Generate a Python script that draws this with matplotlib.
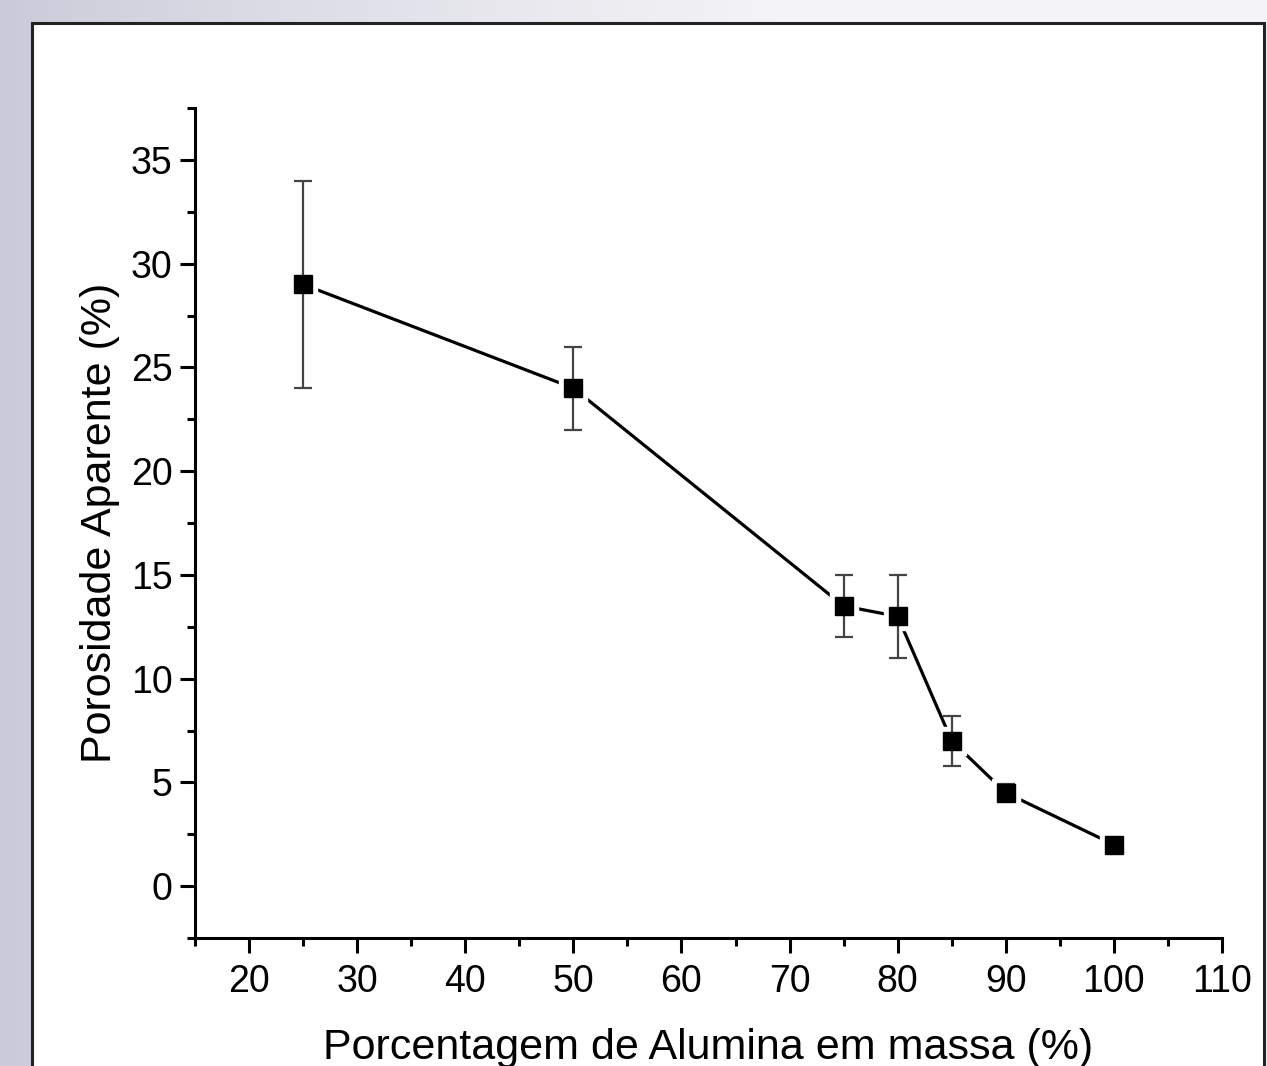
import numpy as np
import matplotlib
matplotlib.use("Agg")
import matplotlib.pyplot as plt
from matplotlib.patches import Rectangle

alumina = [25, 50, 75, 80, 85, 90, 100]
porosidade = [29, 24, 13.5, 13, 7, 4.5, 2]
erro = [5, 2, 1.5, 2, 1.2, 0.4, 0.1]

plt.rcParams['font.family'] = ['Liberation Sans', 'DejaVu Sans']

W, H = 1267, 1066
fig = plt.figure(figsize=(W/100, H/100), dpi=100)

# background gradient
bg = fig.add_axes([0, 0, 1, 1], zorder=-10)
gx = np.linspace(0, 1, 256)
c0 = np.array([0.79, 0.79, 0.85])
c1 = np.array([0.96, 0.96, 0.97])
t = np.clip(gx * 1.6, 0, 1) ** 0.8
img = c0[None, :] * (1 - t[:, None]) + c1[None, :] * t[:, None]
img = np.tile(img[None, :, :], (16, 1, 1))
bg.imshow(img, aspect='auto', extent=[0, 1, 0, 1])
bg.set_xlim(0, 1); bg.set_ylim(0, 1)
bg.axis('off')
bg.add_patch(Rectangle((32/W, -0.05), (1264-32)/W, 1.05 - 23/H,
                       facecolor='white', edgecolor='#222222', linewidth=2.2,
                       transform=bg.transAxes))

ax = fig.add_axes([195/W, 1-938/H, (1222-195)/W, (938-108)/H])
ax.patch.set_alpha(0)

ax.plot(alumina, porosidade, color='black', lw=2.3, zorder=1)
ax.plot(alumina, porosidade, ls='none', marker='s', ms=20, mfc='white', mec='white', zorder=2)
ax.errorbar(alumina, porosidade, yerr=erro, fmt='none', ecolor='#444444',
            elinewidth=1.6, capsize=6.5, capthick=1.6, zorder=3)
ax.plot(alumina, porosidade, ls='none', marker='s', ms=13, mfc='black', mec='black', zorder=4)

ax.set_xlim(15, 110)
ax.set_ylim(-2.5, 37.5)
ax.set_xticks(np.arange(20, 111, 10))
ax.set_xticks(np.arange(15, 111, 5), minor=True)
ax.set_yticks(np.arange(0, 36, 5))
ax.set_yticks(np.arange(-2.5, 37.6, 2.5), minor=True)

for s in ['top', 'right']:
    ax.spines[s].set_visible(False)
for s in ['left', 'bottom']:
    ax.spines[s].set_linewidth(2.2)

ax.tick_params(which='major', direction='out', length=11, width=2.2, labelsize=27, pad=5)
ax.tick_params(axis='x', which='major', pad=8)
ax.tick_params(which='minor', direction='out', length=6, width=2.2)

ax.set_xlabel('Porcentagem de Alumina em massa (%)', fontsize=31, labelpad=20)
ax.set_ylabel('Porosidade Aparente (%)', fontsize=31, labelpad=8)

fig.savefig('out.png', dpi=100)
